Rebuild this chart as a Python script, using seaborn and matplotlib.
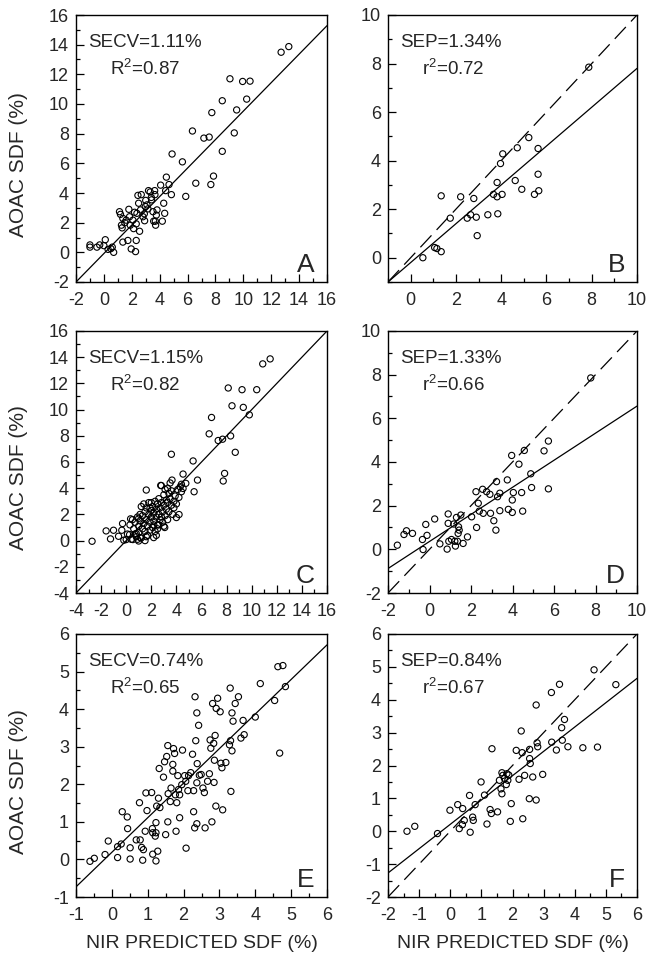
import numpy as np
import pandas as pd
import matplotlib
matplotlib.use("Agg")
import matplotlib.pyplot as plt
from matplotlib.ticker import MultipleLocator
import seaborn as sns

sns.set_theme(style="white")
plt.rcParams['font.family'] = ['Liberation Sans', 'DejaVu Sans']
plt.rcParams['mathtext.fontset'] = 'custom'
plt.rcParams['mathtext.rm'] = 'Liberation Sans'
plt.rcParams['mathtext.it'] = 'Liberation Sans'
plt.rcParams['axes.unicode_minus'] = False

# ---------------- data (NIR predicted, AOAC) ----------------
a_nir = [-1.0, -1.0, -0.5, -0.3, 0.0, 0.1, 0.3, 0.6, 0.7, 0.5,
         1.12, 1.19, 1.36, 1.26, 1.31, 1.36, 1.6, 1.72, 1.79, 1.84, 1.89, 1.96, 2.08, 2.13,
         2.27, 2.32, 2.37, 2.32, 2.44, 2.49, 2.56, 2.63, 2.68, 2.8, 2.92, 2.97, 3.09, 3.16,
         3.2, 3.32, 3.4, 3.42, 3.52, 3.57, 3.64, 3.66, 3.69, 3.71, 3.81, 3.76, 4.07, 4.19,
         4.29, 4.36, 4.43, 4.48, 4.67, 4.84, 4.89, 5.63, 5.87, 6.35, 6.59, 7.17, 7.55, 7.67,
         7.74, 7.86, 8.49, 8.49, 9.04, 9.35, 9.52, 9.95, 10.24, 10.48, 12.71, 13.26,
         2.9, 2.2, 1.5, 3.0]
a_aoac = [0.5, 0.35, 0.35, 0.5, 0.45, 0.85, 0.2, 0.35, 0.0, 0.25,
          2.74, 2.56, 2.29, 1.83, 1.65, 0.69, 2.17, 0.8, 2.9, 2.4, 1.83, 0.23, 2.17, 1.6,
          0.05, 0.8, 2.63, 1.92, 3.84, 3.31, 1.42, 2.86, 3.89, 2.4, 2.13, 3.09, 3.2, 2.93,
          4.16, 4.07, 3.7, 3.54, 2.74, 2.1, 4.16, 3.89, 2.1, 1.83, 2.86, 2.51, 4.53, 2.1,
          3.31, 2.63, 4.16, 5.07, 4.57, 3.89, 6.63, 6.1, 3.77, 8.18, 4.66, 7.7, 7.77, 4.57,
          9.42, 5.14, 6.81, 10.22, 11.7, 8.05, 9.6, 11.52, 10.33, 11.54, 13.49, 13.87,
          2.6, 2.7, 2.0, 3.5]

b_nir = [0.54, 1.06, 1.16, 1.35, 1.35, 1.75, 2.21, 2.5, 2.65, 2.79, 2.9, 2.94, 3.41, 3.66,
         3.82, 3.82, 3.85, 3.97, 4.04, 4.07, 4.62, 4.71, 4.91, 5.22, 5.47, 5.63, 5.63, 5.66, 7.87]
b_aoac = [0.0, 0.42, 0.38, 0.25, 2.55, 1.63, 2.51, 1.63, 1.77, 2.44, 1.67, 0.91, 1.77, 2.61,
          3.1, 2.51, 1.81, 3.88, 2.61, 4.28, 3.18, 4.53, 2.82, 4.95, 2.61, 4.5, 3.44, 2.76, 7.85]

c_nir = [-2.72, -1.6, -1.25, -1.01, -0.61, -0.35, -0.29, -0.19, 0.0, 0.27, 0.35, 0.53, 0.8, 0.99, 1.12,
         1.6, 2.75, 3.6, 3.65, 3.07, 2.19, 4.0, 4.21, 4.4, 4.53, 4.53, 4.75, 5.33, 5.41, 5.68,
         6.61, 6.8, 7.33, 7.68, 7.73, 7.84, 8.13, 8.32, 8.43, 8.69, 9.23, 9.33, 9.81, 10.4, 10.88, 11.47,
         0.3, 0.5, 0.6, 0.7, 0.8, 0.9, 1.0, 1.0, 1.1, 1.2, 1.2, 1.3, 1.3, 1.4, 1.4, 1.5, 1.5, 1.6, 1.6,
         1.7, 1.7, 1.8, 1.8, 1.9, 1.9, 2.0, 2.0, 2.0, 2.1, 2.1, 2.2, 2.2, 2.3, 2.3, 2.4, 2.4, 2.5, 2.5,
         2.6, 2.6, 2.7, 2.7, 2.8, 2.8, 2.9, 2.9, 3.0, 3.0, 3.1, 3.1, 3.2, 3.2, 3.3, 3.3, 3.4, 3.4, 3.5,
         3.5, 3.6, 3.6, 3.7, 3.8, 3.8, 3.9, 4.0, 4.1, 4.2, 4.3, 4.4, 0.1, 0.4, 0.9, 1.5, 1.6, 2.4, 2.6,
         3.0, 1.1, 0.7, 1.9, 2.2, 2.8, 3.3, 1.0, 2.5]
c_aoac = [-0.05, 0.74, 0.13, 0.79, 0.33, 0.79, 1.3, 0.03, 0.08, 0.46, 1.66, 0.08, 0.54, -0.03, 0.23,
          3.86, 4.21, 6.59, 4.62, 1.0, 0.23, 1.76, 1.99, 3.73, 3.98, 5.08, 4.37, 6.08, 3.73, 4.62,
          8.15, 9.4, 7.64, 7.74, 4.55, 5.13, 11.65, 7.99, 10.29, 6.74, 11.52, 10.17, 9.6, 11.52, 13.49, 13.87,
          1.2, 1.6, 0.9, 1.4, 0.3, 1.8, 1.1, 0.6, 1.5, 2.6, 0.2, 1.9, 0.9, 2.8, 1.3, 2.2, 0.7, 1.6, 2.5,
          0.4, 1.1, 2.0, 2.9, 1.4, 0.8, 2.3, 1.8, 2.9, 1.0, 2.6, 1.5, 2.1, 3.0, 0.7, 1.8, 2.4, 1.2, 2.8,
          3.2, 2.0, 1.6, 2.5, 4.2, 2.9, 2.2, 1.4, 3.5, 2.7, 3.9, 1.9, 3.1, 2.4, 4.0, 2.9, 3.6, 2.2, 4.4,
          3.2, 2.7, 3.8, 2.0, 3.0, 2.5, 3.4, 2.8, 3.9, 3.3, 4.1, 4.3, 0.5, 0.1, 0.1, 0.0, 0.3, 0.4, 1.2,
          1.1, 2.0, 0.5, 2.5, 1.2, 1.8, 1.6, 1.7, 0.9]

d_nir = [-1.55, -1.23, -1.11, -0.82, -0.34, -0.31, -0.18, -0.12, 0.25, 0.5, 0.85, 0.9, 0.9, 0.93,
         1.06, 1.17, 1.22, 1.25, 1.3, 1.35, 1.38, 1.4, 1.43, 1.51, 1.62, 1.83, 2.03, 2.24, 2.27, 2.35,
         2.4, 2.56, 2.59, 2.75, 2.91, 2.94, 3.1, 3.2, 3.23, 3.28, 3.39, 3.39, 3.75, 3.8, 3.99, 3.96,
         3.99, 4.04, 4.31, 4.44, 4.49, 4.57, 4.88, 4.92, 5.52, 5.73, 5.73, 7.77]
d_aoac = [0.19, 0.68, 0.85, 0.73, 0.45, -0.01, 1.14, 0.64, 1.39, 0.25, 0.01, 1.62, 1.19, 0.37,
          0.45, 1.16, 0.37, 0.15, 1.46, 0.37, 0.73, 1.03, 0.88, 1.57, 0.27, 0.57, 1.49, 2.64, 1.0, 2.11,
          1.75, 2.75, 1.65, 2.64, 2.52, 1.65, 1.31, 0.88, 3.1, 2.41, 2.57, 1.77, 3.18, 1.83, 1.69, 4.3,
          2.26, 2.6, 3.9, 2.6, 1.75, 4.53, 3.46, 2.83, 4.51, 4.96, 2.77, 7.85]

e_nir = [-0.61, -0.49, -0.19, -0.1, 0.16, 0.16, 0.26, 0.29, 0.43, 0.44, 0.51, 0.51, 0.68, 0.77,
         0.79, 0.83, 0.86, 0.88, 0.93, 0.95, 0.98, 1.11, 1.13, 1.14, 1.14, 1.21, 1.23, 1.23, 1.23,
         1.25, 1.28, 1.3, 1.32, 1.34, 1.44, 1.47, 1.5, 1.53, 1.56, 1.56, 1.57, 1.63, 1.65, 1.7, 1.7,
         1.72, 1.75, 1.77, 1.79, 1.81, 1.84, 1.86, 1.89, 1.89, 1.95, 1.97, 2.03, 2.06, 2.07, 2.12,
         2.14, 2.2, 2.25, 2.28, 2.28, 2.31, 2.32, 2.34, 2.37, 2.37, 2.37, 2.38, 2.42, 2.44, 2.49,
         2.54, 2.58, 2.6, 2.67, 2.72, 2.74, 2.76, 2.79, 2.81, 2.84, 2.85, 2.86, 2.88, 2.9, 2.91,
         2.95, 3.02, 3.04, 3.07, 3.09, 3.18, 3.3, 3.28, 3.31, 3.32, 3.35, 3.35, 3.38, 3.44, 3.53,
         3.6, 3.66, 3.69, 4.0, 4.14, 4.54, 4.63, 4.68, 4.77, 4.84]
e_aoac = [-0.05, 0.03, 0.13, 0.49, 0.05, 0.34, 0.41, 1.27, 1.13, 0.82, 0.31, 0.01, 0.52, 1.51,
          0.52, 0.32, -0.02, 0.26, 0.75, 1.77, 1.3, 1.78, 0.82, 0.71, 0.14, 0.62, 0.98, -0.04, 0.71,
          1.42, 0.22, 1.63, 2.42, 1.38, 2.19, 2.6, 0.66, 2.74, 1.0, 3.03, 1.75, 1.54, 1.9, 2.53, 2.35,
          2.95, 2.82, 1.72, 0.75, 1.51, 2.23, 1.86, 1.72, 1.11, 1.99, 2.91, 2.23, 2.08, 0.3, 1.83,
          2.23, 2.31, 2.8, 1.83, 1.27, 0.84, 4.33, 3.16, 3.9, 2.04, 0.95, 2.55, 3.57, 2.24, 2.26,
          1.9, 1.78, 0.84, 2.08, 2.28, 3.18, 2.96, 1.0, 4.15, 3.09, 2.05, 2.64, 3.3, 1.42, 4.02,
          4.29, 3.93, 2.56, 2.44, 1.32, 2.58, 4.56, 3.05, 3.16, 1.81, 3.9, 2.89, 3.68, 4.15, 4.33,
          3.23, 3.7, 3.32, 3.79, 4.68, 4.23, 5.13, 2.83, 5.16, 4.6]

f_nir = [-1.39, -1.14, -0.41, -0.01, 0.24, 0.29, 0.39, 0.4, 0.45, 0.62, 0.64, 0.72, 0.74, 0.8,
         0.99, 1.1, 1.18, 1.28, 1.32, 1.34, 1.52, 1.58, 1.63, 1.66, 1.66, 1.69, 1.74, 1.8, 1.82,
         1.85, 1.88, 1.96, 1.93, 2.12, 2.21, 2.28, 2.31, 2.33, 2.39, 2.54, 2.55, 2.55, 2.57, 2.65,
         2.76, 2.76, 2.79, 2.81, 2.97, 3.25, 3.26, 3.41, 3.51, 3.58, 3.6, 3.67, 3.78, 4.26, 4.62,
         4.73, 5.32]
f_aoac = [0.0, 0.15, -0.07, 0.64, 0.81, 0.08, 0.2, 0.69, 0.33, 1.09, -0.03, 0.43, 0.33, 0.81,
          1.5, 1.1, 0.22, 0.66, 0.54, 2.51, 0.59, 1.55, 1.29, 1.78, 1.14, 1.7, 1.61, 1.42, 1.75,
          1.55, 1.71, 0.84, 0.3, 2.46, 1.58, 3.05, 2.39, 0.38, 1.7, 0.99, 2.49, 2.21, 2.06, 1.65,
          0.95, 3.84, 2.69, 2.57, 1.73, 4.22, 2.71, 2.47, 4.47, 3.15, 2.77, 3.4, 2.57, 2.54, 4.91,
          2.56, 4.46]

# regression lines (slope, intercept); dashed = 1:1 line shown in validation panels
reg_slope = {"A": 0.96, "B": 0.80, "C": 1.0, "D": 0.62, "E": 0.92, "F": 0.74}
reg_icpt = {"A": -0.08, "B": -0.2, "C": 0.0, "D": 0.36, "E": 0.19, "F": 0.21}
show_identity = {"A": False, "B": True, "C": False, "D": True, "E": False, "F": True}

stat_line1 = {"A": "SECV=1.11%", "B": "SEP=1.34%", "C": "SECV=1.15%",
              "D": "SEP=1.33%", "E": "SECV=0.74%", "F": "SEP=0.84%"}
stat_line2 = {"A": "R$^\\mathrm{2}$=0.87", "B": "r$^\\mathrm{2}$=0.72", "C": "R$^\\mathrm{2}$=0.82",
              "D": "r$^\\mathrm{2}$=0.66", "E": "R$^\\mathrm{2}$=0.65", "F": "r$^\\mathrm{2}$=0.67"}

limits = {"A": (-2, 16), "B": (-1, 10), "C": (-4, 16), "D": (-2, 10), "E": (-1, 6), "F": (-2, 6)}
major = {"A": 2, "B": 2, "C": 2, "D": 2, "E": 1, "F": 1}

data = {"A": (a_nir, a_aoac), "B": (b_nir, b_aoac), "C": (c_nir, c_aoac),
        "D": (d_nir, d_aoac), "E": (e_nir, e_aoac), "F": (f_nir, f_aoac)}

W, H = 648, 961
fig = plt.figure(figsize=(W / 100, H / 100), dpi=100)

col_left = {0: 76, 1: 388}
col_w = {0: 251, 1: 249}
rows = [(15, 282), (331, 593), (634, 897)]
order = [["A", "B"], ["C", "D"], ["E", "F"]]

for r, (top, bot) in enumerate(rows):
    for c in range(2):
        key = order[r][c]
        ax = fig.add_axes([col_left[c] / W, 1 - bot / H, col_w[c] / W, (bot - top) / H])
        x, y = data[key]
        df = pd.DataFrame({"nir": x, "aoac": y})
        lo, hi = limits[key]
        xs = np.array([lo, hi], dtype=float)
        line_df = pd.DataFrame({"x": xs, "y": reg_slope[key] * xs + reg_icpt[key]})
        sns.lineplot(data=line_df, x="x", y="y", ax=ax, color="black", linewidth=0.9)
        if show_identity[key]:
            id_df = pd.DataFrame({"x": xs, "y": xs})
            sns.lineplot(data=id_df, x="x", y="y", ax=ax, color="black", linewidth=0.9,
                         dashes=False, linestyle=(0, (13, 6)))
        sns.scatterplot(data=df, x="nir", y="aoac", ax=ax, marker="o", s=20,
                        facecolors="none", edgecolor="black", linewidth=0.8, zorder=3)
        ax.set_xlim(lo, hi)
        ax.set_ylim(lo, hi)
        ax.xaxis.set_major_locator(MultipleLocator(major[key]))
        ax.yaxis.set_major_locator(MultipleLocator(major[key]))
        ax.xaxis.set_minor_locator(MultipleLocator(major[key] / 2))
        ax.yaxis.set_minor_locator(MultipleLocator(major[key] / 2))
        if key == "B":
            ax.set_xticks([0, 2, 4, 6, 8, 10])
            ax.set_yticks([0, 2, 4, 6, 8, 10])
        ax.tick_params(which="both", direction="in", bottom=True, left=True, top=False,
                       right=False, color="black", width=0.9)
        ax.tick_params(which="major", length=6, labelsize=13, pad=5)
        ax.tick_params(which="minor", length=3)
        ax.tick_params(axis="x", which="major", pad=7)
        for sp in ax.spines.values():
            sp.set_color("black")
            sp.set_linewidth(1.0)
        ax.set_xlabel("")
        ax.set_ylabel("")
        if c == 0:
            ax.set_ylabel("AOAC SDF (%)", fontsize=15)
            ax.yaxis.set_label_coords(-0.19, 0.44)
        if r == 2:
            ax.set_xlabel("NIR PREDICTED SDF (%)", fontsize=14, labelpad=8)
        hpx = bot - top
        ax.text(0.048, 1 - 32 / hpx, stat_line1[key], transform=ax.transAxes,
                fontsize=13.5, ha="left", va="baseline")
        ax.text(0.135, 1 - 60 / hpx, stat_line2[key], transform=ax.transAxes,
                fontsize=13.5, ha="left", va="baseline")
        ax.text(0.952, 10 / hpx, key, transform=ax.transAxes, fontsize=19,
                ha="right", va="baseline")

fig.savefig("out.png", dpi=100)
